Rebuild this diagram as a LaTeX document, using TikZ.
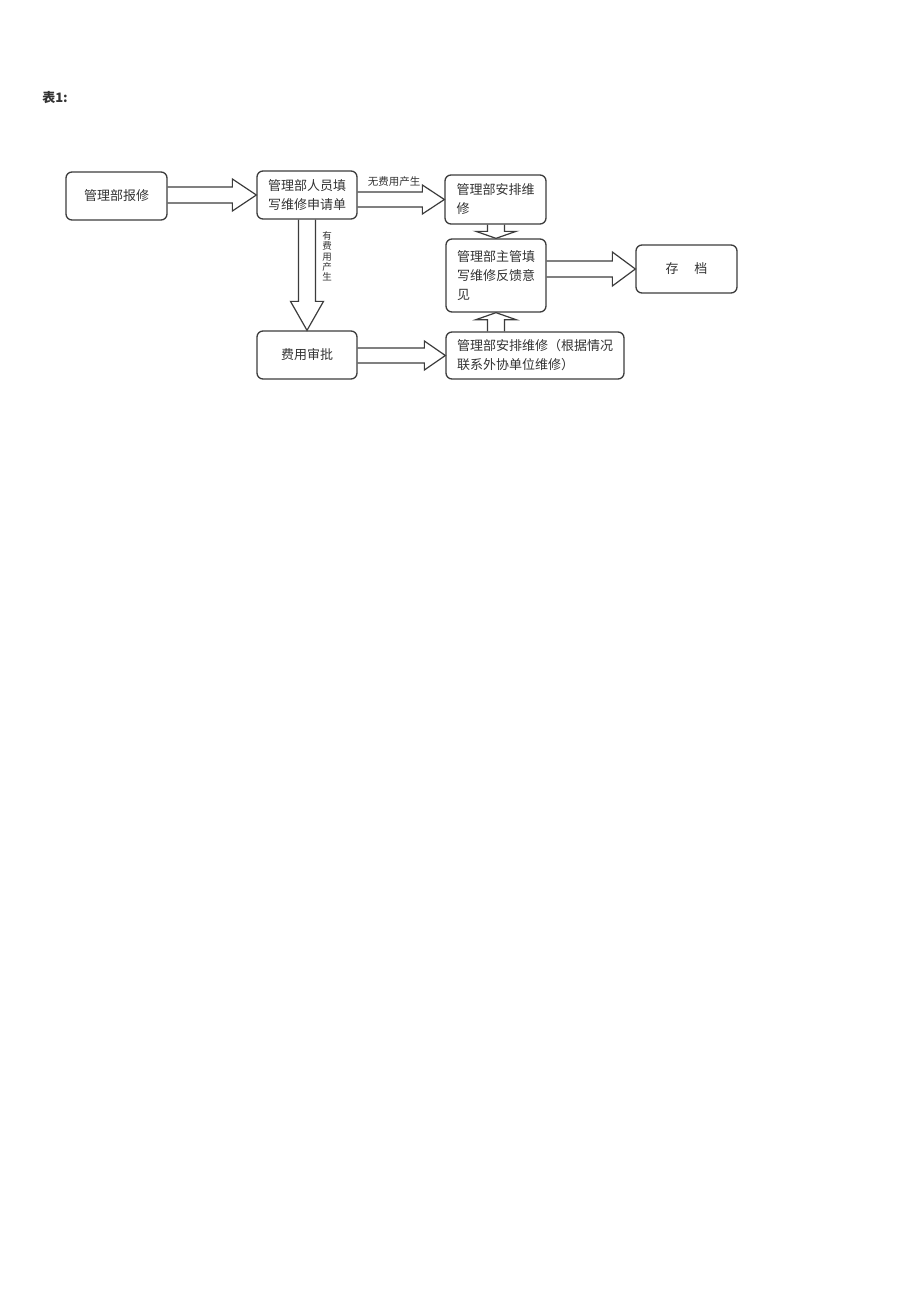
\documentclass[tikz,border=0pt]{standalone}
\usepackage{fontspec}
\setmainfont{Noto Sans CJK SC}
\usetikzlibrary{calc}
\definecolor{lc}{HTML}{3C3C3C}
\definecolor{tc}{HTML}{333333}
% horizontal block arrow: #1 source, #2 target, #3 shaft half, #4 head half, #5 head length
\newcommand{\hblk}[5]{\draw[blk] let \p1=(#1.east), \p2=(#2.west) in
  (\x1,\y2+#3) -- (\x2-#5,\y2+#3) -- (\x2-#5,\y2+#4) -- (\x2,\y2)
  -- (\x2-#5,\y2-#4) -- (\x2-#5,\y2-#3) -- (\x1,\y2-#3);}
% downward block arrow
\newcommand{\dblk}[5]{\draw[blk] let \p1=(#1.south), \p2=(#2.north) in
  (\x2-#3,\y1) -- (\x2-#3,\y2+#5) -- (\x2-#4,\y2+#5) -- (\x2,\y2)
  -- (\x2+#4,\y2+#5) -- (\x2+#3,\y2+#5) -- (\x2+#3,\y1);}
% upward block arrow
\newcommand{\ublk}[5]{\draw[blk] let \p1=(#1.north), \p2=(#2.south) in
  (\x2-#3,\y1) -- (\x2-#3,\y2-#5) -- (\x2-#4,\y2-#5) -- (\x2,\y2)
  -- (\x2+#4,\y2-#5) -- (\x2+#3,\y2-#5) -- (\x2+#3,\y1);}
\begin{document}
\begin{tikzpicture}[x=1pt,y=-1pt,
  box/.style={draw=lc, line width=1.3pt, rounded corners=6pt, text=tc,
    font=\fontsize{13pt}{19pt}\selectfont, inner sep=0pt},
  blk/.style={draw=lc, line width=1.2pt, line join=miter},
  lbl/.style={text=tc, inner sep=0pt}]
\useasboundingbox[fill=white] (0,0) rectangle (920,1301);

\node[lbl, font=\fontsize{13pt}{15pt}\selectfont\bfseries] (title) at (55,98) {表1:};

\node[box, minimum width=101pt, minimum height=48pt, align=center] (b1) at (116.5,196) {管理部报修};
\node[box, minimum width=100pt, minimum height=48pt, align=center] (b2) at (307,195) {管理部人员填\\写维修申请单};
\node[box, minimum width=101pt, minimum height=49pt, align=left] (b3) at (495.5,199.5) {管理部安排维\\修};
\node[box, minimum width=100pt, minimum height=73pt, align=left] (b4) at (496,275.5) {管理部主管填\\写维修反馈意\\见};
\node[box, minimum width=101pt, minimum height=48pt, align=center] (b5) at (686.5,269) {存\hspace{16pt}档};
\node[box, minimum width=178pt, minimum height=47pt, align=left] (b6) at (535,355.5) {管理部安排维修（根据情况\\联系外协单位维修）};
\node[box, minimum width=100pt, minimum height=48pt, align=center] (b7) at (307,355) {费用审批};

\hblk{b1}{b2}{8pt}{16pt}{24pt}
\hblk{b2}{b3}{7.5pt}{14.5pt}{22pt}
\hblk{b4}{b5}{8pt}{17pt}{23pt}
\hblk{b7}{b6}{7.5pt}{14.5pt}{21pt}
\dblk{b2}{b7}{8.5pt}{16.5pt}{29pt}
\dblk{b3}{b4}{8.5pt}{20pt}{7pt}
\ublk{b6}{b4}{8.5pt}{20pt}{7pt}

\node[lbl, font=\fontsize{10.5pt}{12pt}\selectfont] (l1) at (394,182) {无费用产生};
\node[lbl, font=\fontsize{9.5pt}{10.3pt}\selectfont, align=center] (l2) at (327,256.5) {有\\费\\用\\产\\生};
\end{tikzpicture}
\end{document}
